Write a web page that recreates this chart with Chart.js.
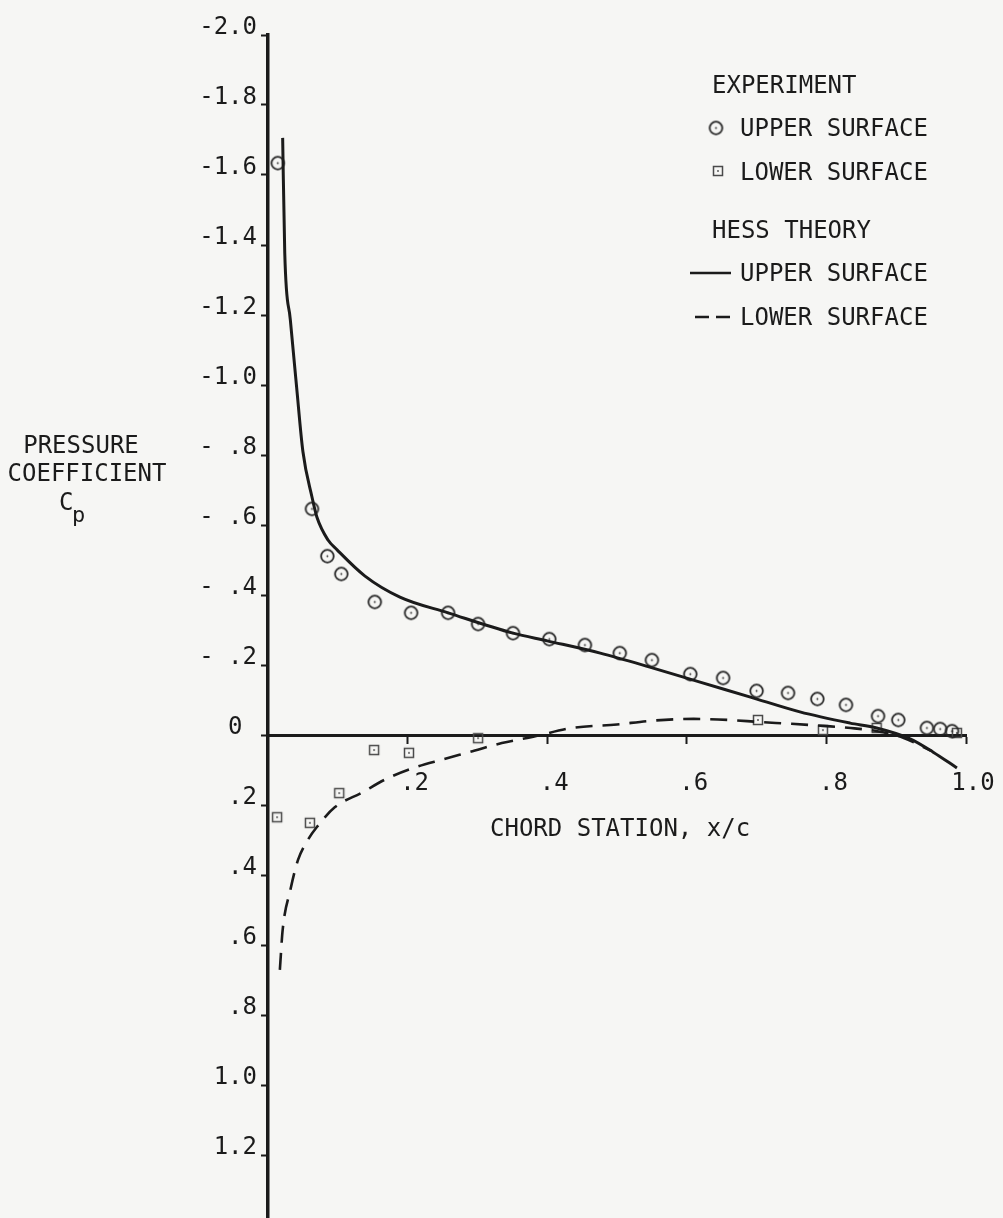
<!DOCTYPE html>
<html>
<head>
<meta charset="utf-8">
<script src="https://cdn.jsdelivr.net/npm/chart.js@4/dist/chart.umd.min.js"></script>
<style>
  html, body { margin: 0; padding: 0; background: #f6f6f4; overflow: hidden; }
  #wrap { position: relative; width: 1003px; height: 1218px; }
</style>
</head>
<body>
<div id="wrap"><canvas id="c"></canvas></div>
<script>
// ---- data ----
const upperExpX  = [0.014, 0.063, 0.085, 0.105, 0.153, 0.205, 0.258, 0.301, 0.351, 0.403, 0.454, 0.504, 0.550, 0.605, 0.652, 0.700, 0.745, 0.787, 0.828, 0.874, 0.903, 0.944, 0.963, 0.980];
const upperExpCp = [-1.634, -0.646, -0.511, -0.460, -0.380, -0.349, -0.349, -0.317, -0.291, -0.274, -0.257, -0.234, -0.214, -0.174, -0.163, -0.126, -0.120, -0.103, -0.086, -0.054, -0.043, -0.020, -0.017, -0.011];

const lowerExpX  = [0.013, 0.060, 0.102, 0.152, 0.202, 0.301, 0.702, 0.795, 0.872, 0.987];
const lowerExpCp = [0.235, 0.251, 0.166, 0.043, 0.051, 0.009, -0.043, -0.014, -0.020, -0.006];

const upperTheoryX  = [0.021, 0.024, 0.032, 0.041, 0.050, 0.063, 0.070, 0.086, 0.099, 0.139, 0.189, 0.258, 0.351, 0.400, 0.476, 0.547, 0.619, 0.690, 0.762, 0.834, 0.872, 0.920, 0.953, 0.987];
const upperTheoryCp = [-1.706, -1.377, -1.186, -0.994, -0.810, -0.680, -0.623, -0.557, -0.529, -0.454, -0.394, -0.349, -0.291, -0.269, -0.234, -0.194, -0.151, -0.109, -0.066, -0.034, -0.020, 0.011, 0.049, 0.094];

const lowerTheoryX  = [0.017, 0.021, 0.032, 0.043, 0.057, 0.070, 0.096, 0.134, 0.170, 0.210, 0.250, 0.290, 0.335, 0.380, 0.435, 0.500, 0.545, 0.610, 0.660, 0.705, 0.750, 0.795, 0.835, 0.875, 0.910, 0.950];
const lowerTheoryCp = [0.671, 0.557, 0.443, 0.357, 0.300, 0.263, 0.206, 0.165, 0.125, 0.093, 0.070, 0.048, 0.023, 0.005, -0.020, -0.030, -0.040, -0.046, -0.043, -0.037, -0.032, -0.026, -0.020, -0.010, 0.008, 0.045];

const yTickValues = [-2.0, -1.8, -1.6, -1.4, -1.2, -1.0, -0.8, -0.6, -0.4, -0.2, 0, 0.2, 0.4, 0.6, 0.8, 1.0, 1.2];
const yTickLabels = ["-2.0", "-1.8", "-1.6", "-1.4", "-1.2", "-1.0", "- .8", "- .6", "- .4", "- .2", "0 ", ".2", ".4", ".6", ".8", "1.0", "1.2"];
const xTickValues = [0.2, 0.4, 0.6, 0.8, 1.0];
const xTickLabels = [".2", ".4", ".6", ".8", "1.0"];

const legendTitles = ["EXPERIMENT", "HESS THEORY"];
const seriesNames = ["UPPER SURFACE", "LOWER SURFACE", "UPPER SURFACE", "LOWER SURFACE"];
const yTitleLines = ["PRESSURE", "COEFFICIENT"];
const xTitle = "CHORD STATION, x/c";

// ---- styles ----
const INK = '#1b1b1b';
const FONT = '"DejaVu Sans Mono", monospace';

function marker(kind) {
  const s = kind === 'circle' ? 17 : 14;
  const cv = document.createElement('canvas');
  cv.width = s; cv.height = s;
  const g = cv.getContext('2d');
  g.strokeStyle = kind === 'circle' ? '#262626' : '#4a4a4a';
  g.fillStyle = g.strokeStyle;
  g.lineWidth = kind === 'circle' ? 1.8 : 1.5;
  if (kind === 'circle') {
    g.beginPath(); g.arc(s / 2, s / 2, 6.3, 0, Math.PI * 2); g.stroke();
  } else {
    g.strokeRect(2.5, 2.5, s - 5, s - 5);
  }
  g.beginPath(); g.arc(s / 2, s / 2, 0.9, 0, Math.PI * 2); g.fill();
  return cv;
}
const circleMarker = marker('circle');
const squareMarker = marker('square');

const pts = (xs, ys) => xs.map((x, i) => ({x: x, y: ys[i]}));

const overlay = {
  id: 'overlay',
  afterDraw(chart) {
    const ctx = chart.ctx;
    ctx.save();
    ctx.fillStyle = INK;
    ctx.strokeStyle = INK;
    ctx.font = '24px ' + FONT;
    ctx.textBaseline = 'alphabetic';
    ctx.textAlign = 'left';
    // legend
    ctx.fillText(legendTitles[0], 712, 93);
    ctx.drawImage(circleMarker, 716 - 8.5, 128 - 8.5);
    ctx.fillText(seriesNames[0], 740, 136);
    ctx.drawImage(squareMarker, 718 - 7, 171 - 7);
    ctx.fillText(seriesNames[1], 740, 180);
    ctx.fillText(legendTitles[1], 712, 238);
    ctx.lineWidth = 2.5;
    ctx.beginPath(); ctx.moveTo(690, 273); ctx.lineTo(731, 273); ctx.stroke();
    ctx.fillText(seriesNames[2], 740, 281);
    ctx.beginPath(); ctx.moveTo(695, 317); ctx.lineTo(709, 317); ctx.moveTo(716, 317); ctx.lineTo(730, 317); ctx.stroke();
    ctx.fillText(seriesNames[3], 740, 325);
    // y title
    ctx.textAlign = 'center';
    ctx.fillText(yTitleLines[0], 81, 453);
    ctx.fillText(yTitleLines[1], 87, 481);
    ctx.textAlign = 'left';
    ctx.fillText('C', 59, 510);
    ctx.font = '22px ' + FONT;
    ctx.fillText('p', 72, 522);
    // x title
    ctx.font = '24px ' + FONT;
    ctx.fillText(xTitle, 490, 836);
    ctx.restore();
  }
};

new Chart(document.getElementById('c'), {
  type: 'scatter',
  data: {
    datasets: [
      {
        label: 'Hess theory upper surface',
        type: 'line',
        data: pts(upperTheoryX, upperTheoryCp),
        borderColor: INK, borderWidth: 3,
        pointRadius: 0, fill: false,
        cubicInterpolationMode: 'monotone'
      },
      {
        label: 'Hess theory lower surface',
        type: 'line',
        data: pts(lowerTheoryX, lowerTheoryCp),
        borderColor: INK, borderWidth: 2.6,
        borderDash: [17, 10],
        pointRadius: 0, fill: false,
        cubicInterpolationMode: 'monotone'
      },
      {
        label: 'Experiment upper surface',
        data: pts(upperExpX, upperExpCp),
        pointStyle: circleMarker, pointRadius: 7,
        showLine: false
      },
      {
        label: 'Experiment lower surface',
        data: pts(lowerExpX, lowerExpCp),
        pointStyle: squareMarker, pointRadius: 7,
        showLine: false
      }
    ]
  },
  options: {
    responsive: true,
    maintainAspectRatio: false,
    animation: false,
    events: [],
    layout: { autoPadding: false, padding: { left: 0, right: 37, top: 35, bottom: 0 } },
    plugins: { legend: { display: false }, tooltip: { enabled: false } },
    scales: {
      x: {
        type: 'linear',
        position: { y: 0 },
        min: 0, max: 1.0,
        afterBuildTicks: (s) => { s.ticks = xTickValues.map(v => ({value: v})); },
        afterFit: (s) => { s.paddingLeft = 0; s.paddingRight = 0; },
        ticks: {
          callback: (v, i) => xTickLabels[i],
          color: INK, font: { family: FONT, size: 24 },
          padding: 27, labelOffset: 7, maxRotation: 0, autoSkip: false
        },
        grid: { drawOnChartArea: false, drawTicks: true, tickLength: 7, tickWidth: 2, tickColor: INK },
        border: { display: true, color: INK, width: 3 }
      },
      y: {
        type: 'linear',
        position: 'left',
        reverse: true,
        min: -2.0, max: 1.38,
        afterBuildTicks: (s) => { s.ticks = yTickValues.map(v => ({value: v})); },
        afterFit: (s) => { s.width = 268; s.paddingTop = 0; s.paddingBottom = 0; },
        ticks: {
          callback: (v, i) => yTickLabels[i],
          color: INK, font: { family: FONT, size: 24 },
          padding: 4, labelOffset: -7, autoSkip: false
        },
        grid: { drawOnChartArea: false, drawTicks: true, tickLength: 7, tickWidth: 2, tickColor: INK },
        border: { display: true, color: INK, width: 3.5 }
      }
    }
  },
  plugins: [overlay]
});
</script>
</body>
</html>
